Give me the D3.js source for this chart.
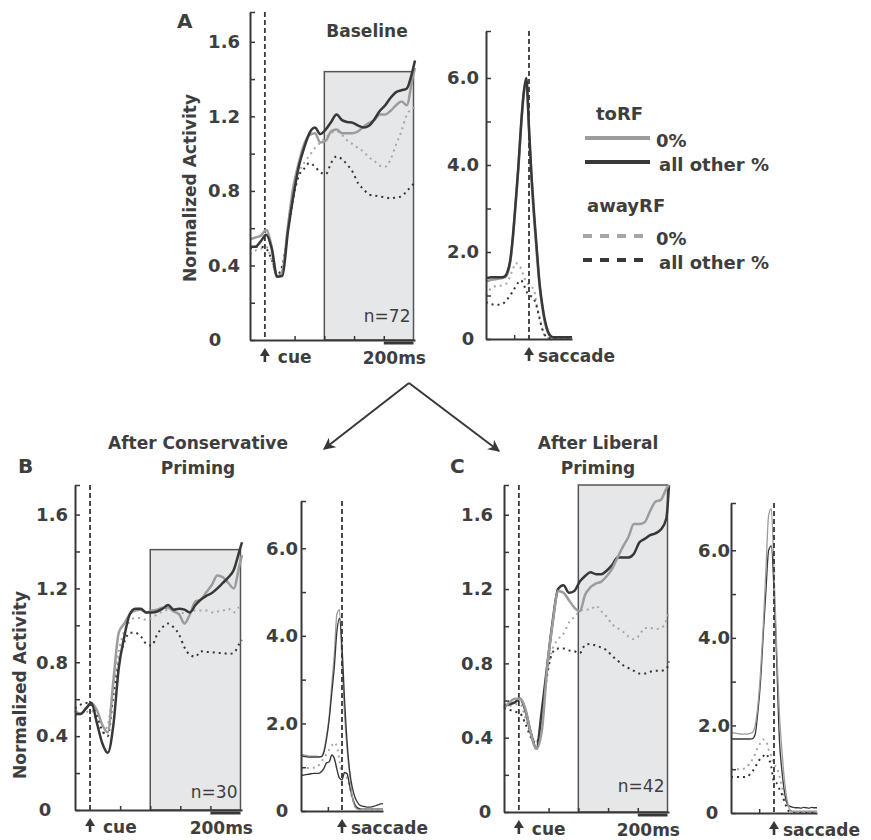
<!DOCTYPE html>
<html>
<head>
<meta charset="utf-8">
<script src="https://cdn.jsdelivr.net/npm/d3@7"></script>
<style>
  body { margin: 0; background: #fff; }
  svg text { font-family: "DejaVu Sans", sans-serif; }
</style>
</head>
<body>
<svg id="fig" width="871" height="840"></svg>
<script>
// ---- sample times (ms) ----
// cue-aligned panels, ms from cue
const cueTimes = [-100, -64, -27, 9, 46, 82, 118, 155, 191, 228, 264, 300, 337, 373, 410, 446,
                  482, 519, 555, 592, 628, 664, 701, 737, 774, 810, 846, 883, 919, 955, 992, 1010];
// saccade-aligned panels, ms from saccade
const sacTimes = [-290, -272, -254, -236, -218, -199, -181, -163, -145, -127, -109, -91, -72, -54, -36, -18,
                  0, 18, 36, 54, 72, 91, 109, 127, 145, 163, 181, 199, 218, 236, 254, 272, 290];

// ---- A: baseline ----
const aCueToZero    = [0.54, 0.55, 0.56, 0.59, 0.50, 0.34, 0.37, 0.61, 0.82, 0.95, 1.05, 1.10, 1.11, 1.06, 1.07, 1.12,
                       1.13, 1.11, 1.11, 1.11, 1.12, 1.145, 1.165, 1.18, 1.21, 1.21, 1.23, 1.26, 1.28, 1.26, 1.40, 1.46];
const aCueToOther   = [0.50, 0.50, 0.53, 0.565, 0.49, 0.34, 0.345, 0.58, 0.77, 0.93, 1.03, 1.11, 1.14, 1.105, 1.13, 1.17,
                       1.21, 1.18, 1.17, 1.165, 1.15, 1.14, 1.15, 1.185, 1.23, 1.26, 1.30, 1.33, 1.34, 1.35, 1.44, 1.50];
const aCueAwayZero  = [0.46, 0.48, 0.49, 0.50, 0.43, 0.34, 0.39, 0.60, 0.82, 0.90, 0.95, 0.99, 1.03, 1.06, 1.085, 1.11,
                       1.12, 1.10, 1.07, 1.05, 1.03, 1.01, 0.98, 0.96, 0.935, 0.93, 0.97, 1.05, 1.12, 1.21, 1.24, 1.25];
const aCueAwayOther = [0.49, 0.50, 0.50, 0.49, 0.43, 0.35, 0.40, 0.58, 0.76, 0.88, 0.92, 0.95, 0.93, 0.90, 0.89, 0.95,
                       0.985, 0.97, 0.94, 0.90, 0.84, 0.81, 0.78, 0.775, 0.77, 0.765, 0.76, 0.765, 0.77, 0.80, 0.83, 0.85];
const aSacToZero    = [1.32, 1.34, 1.36, 1.37, 1.38, 1.39, 1.40, 1.42, 1.50, 1.75, 2.30, 3.05, 3.90, 4.85, 5.60, 5.95,
                       4.80, 3.60, 2.70, 1.90, 1.20, 0.70, 0.35, 0.15, 0.06, 0.04, 0.04, 0.04, 0.04, 0.04, 0.04, 0.04, 0.04];
const aSacToOther   = [1.40, 1.41, 1.42, 1.42, 1.42, 1.42, 1.42, 1.44, 1.55, 1.80, 2.35, 3.10, 3.95, 4.90, 5.65, 6.00,
                       4.85, 3.70, 2.80, 2.00, 1.25, 0.75, 0.40, 0.18, 0.07, 0.04, 0.04, 0.04, 0.04, 0.04, 0.04, 0.04, 0.04];
const aSacAwayZero  = [1.00, 1.10, 1.17, 1.20, 1.22, 1.22, 1.24, 1.26, 1.30, 1.45, 1.60, 1.75, 1.70, 1.62, 1.45, 1.30,
                       1.25, 1.20, 1.10, 0.75, 0.50, 0.20, 0.06, 0.03, 0.02, 0.02, 0.02, 0.02, 0.02, 0.02, 0.02, 0.02, 0.02];
const aSacAwayOther = [0.85, 0.82, 0.80, 0.79, 0.79, 0.79, 0.80, 0.85, 0.92, 1.00, 1.10, 1.20, 1.30, 1.35, 1.25, 1.10,
                       1.00, 0.98, 0.90, 0.72, 0.45, 0.22, 0.08, 0.03, 0.02, 0.02, 0.02, 0.02, 0.02, 0.02, 0.02, 0.02, 0.02];

// ---- B: after conservative priming ----
const bCueToZero    = [0.54, 0.52, 0.55, 0.58, 0.54, 0.46, 0.42, 0.70, 0.96, 1.01, 1.06, 1.08, 1.085, 1.07, 1.08, 1.085,
                       1.095, 1.095, 1.075, 1.06, 1.01, 1.06, 1.13, 1.14, 1.18, 1.22, 1.27, 1.26, 1.23, 1.20, 1.32, 1.38];
const bCueToOther   = [0.52, 0.52, 0.55, 0.58, 0.47, 0.36, 0.31, 0.46, 0.77, 0.94, 1.06, 1.09, 1.09, 1.07, 1.07, 1.075,
                       1.09, 1.11, 1.085, 1.09, 1.085, 1.07, 1.11, 1.14, 1.16, 1.175, 1.20, 1.23, 1.26, 1.30, 1.40, 1.45];
const bCueAwayZero  = [0.51, 0.52, 0.53, 0.54, 0.47, 0.42, 0.46, 0.68, 0.86, 0.97, 1.02, 1.04, 1.04, 1.03, 1.04, 1.06,
                       1.075, 1.085, 1.08, 1.06, 1.07, 1.075, 1.08, 1.08, 1.08, 1.07, 1.075, 1.08, 1.09, 1.07, 1.10, 1.11];
const bCueAwayOther = [0.55, 0.57, 0.58, 0.57, 0.51, 0.43, 0.40, 0.62, 0.80, 0.91, 0.96, 0.96, 0.94, 0.90, 0.89, 0.95,
                       0.99, 1.01, 0.99, 0.95, 0.88, 0.84, 0.83, 0.86, 0.855, 0.855, 0.85, 0.85, 0.845, 0.85, 0.90, 0.92];
const bSacToZero    = [1.30, 1.28, 1.27, 1.26, 1.25, 1.25, 1.25, 1.24, 1.25, 1.40, 1.72, 2.15, 2.90, 3.60, 4.50, 4.60,
                       3.40, 2.20, 1.40, 0.85, 0.35, 0.10, 0.04, 0.03, 0.03, 0.03, 0.03, 0.03, 0.03, 0.03, 0.03, 0.03, 0.03];
const bSacToOther   = [1.27, 1.25, 1.24, 1.23, 1.23, 1.23, 1.23, 1.23, 1.24, 1.35, 1.65, 2.08, 2.70, 3.30, 4.10, 4.40,
                       3.75, 2.55, 1.58, 0.92, 0.55, 0.32, 0.20, 0.13, 0.11, 0.10, 0.09, 0.09, 0.10, 0.12, 0.14, 0.16, 0.17];
const bSacAwayZero  = [0.96, 0.97, 0.98, 0.98, 0.99, 0.99, 1.00, 1.05, 1.12, 1.22, 1.30, 1.40, 1.50, 1.56, 1.47, 1.15,
                       0.85, 0.80, 0.75, 0.55, 0.30, 0.12, 0.04, 0.03, 0.03, 0.03, 0.03, 0.03, 0.03, 0.03, 0.03, 0.03, 0.03];
const bSacAwayOther = [0.81, 0.82, 0.83, 0.84, 0.85, 0.86, 0.86, 0.86, 0.90, 0.98, 1.10, 1.12, 1.28, 1.20, 0.95, 0.75,
                       0.71, 0.88, 0.85, 0.58, 0.33, 0.15, 0.07, 0.05, 0.04, 0.04, 0.04, 0.04, 0.04, 0.04, 0.04, 0.04, 0.04];

// ---- C: after liberal priming ----
const cCueToZero    = [0.56, 0.59, 0.61, 0.61, 0.55, 0.42, 0.34, 0.44, 0.78, 1.02, 1.19, 1.18, 1.14, 1.10, 1.08, 1.17,
                       1.21, 1.23, 1.24, 1.27, 1.31, 1.37, 1.43, 1.48, 1.55, 1.55, 1.56, 1.62, 1.67, 1.68, 1.74, 1.76];
const cCueToOther   = [0.57, 0.58, 0.59, 0.61, 0.54, 0.42, 0.34, 0.55, 0.79, 1.03, 1.20, 1.22, 1.18, 1.19, 1.24, 1.27,
                       1.29, 1.28, 1.28, 1.30, 1.33, 1.37, 1.37, 1.37, 1.39, 1.45, 1.47, 1.49, 1.50, 1.52, 1.58, 1.76];
const cCueAwayZero  = [0.56, 0.57, 0.58, 0.58, 0.50, 0.42, 0.37, 0.52, 0.76, 0.88, 0.93, 0.96, 1.02, 1.05, 1.08, 1.09,
                       1.09, 1.11, 1.08, 1.05, 1.01, 0.99, 0.97, 0.945, 0.93, 0.95, 0.99, 0.99, 0.985, 0.99, 1.03, 1.08];
const cCueAwayOther = [0.56, 0.55, 0.54, 0.53, 0.47, 0.40, 0.37, 0.52, 0.74, 0.86, 0.88, 0.88, 0.87, 0.865, 0.855, 0.90,
                       0.905, 0.895, 0.885, 0.87, 0.84, 0.815, 0.79, 0.775, 0.76, 0.745, 0.745, 0.755, 0.76, 0.76, 0.77, 0.81];
const cSacToZero    = [1.84, 1.83, 1.82, 1.81, 1.80, 1.80, 1.80, 1.82, 1.84, 2.00, 2.45, 3.20, 4.30, 5.60, 6.80, 6.95,
                       5.50, 3.80, 2.30, 1.40, 0.70, 0.25, 0.07, 0.04, 0.04, 0.04, 0.04, 0.04, 0.04, 0.04, 0.04, 0.04, 0.04];
const cSacToOther   = [1.69, 1.69, 1.69, 1.69, 1.69, 1.69, 1.69, 1.69, 1.70, 1.80, 2.30, 3.00, 4.10, 5.10, 6.00, 6.10,
                       5.10, 3.50, 1.70, 0.95, 0.45, 0.20, 0.15, 0.13, 0.12, 0.12, 0.11, 0.13, 0.12, 0.11, 0.13, 0.12, 0.12];
const cSacAwayZero  = [1.00, 1.00, 1.00, 1.00, 1.00, 1.02, 1.05, 1.15, 1.22, 1.35, 1.50, 1.60, 1.68, 1.65, 1.45, 1.30,
                       1.10, 1.05, 0.85, 0.60, 0.35, 0.18, 0.06, 0.03, 0.02, 0.02, 0.02, 0.02, 0.02, 0.02, 0.02, 0.02, 0.02];
const cSacAwayOther = [0.82, 0.82, 0.82, 0.82, 0.82, 0.82, 0.83, 0.88, 0.95, 1.05, 1.15, 1.25, 1.30, 1.35, 1.25, 1.05,
                       0.70, 0.68, 0.55, 0.42, 0.25, 0.08, 0.03, 0.02, 0.02, 0.02, 0.02, 0.02, 0.02, 0.02, 0.02, 0.02, 0.02];

// ---- axes / annotation values ----
const cueYLabels = [0, 0.4, 0.8, 1.2, 1.6];
const cueYMinor = [0.2, 0.6, 1.0, 1.4];
const sacYLabels = [0, 2, 4, 6];
const sacYMinor = [1, 3, 5];
const cueXTicks = [200, 400, 600, 800];
const sacXTicks = [-100];
const cueDomain = [-100, 1010];
const sacDomain = [-290, 290];
const cueMax = 1.76, sacMax = 7.08;
const windowMs = [400, 1000];      // grey analysis window
const scaleBarMs = [800, 1000];    // 200ms bar
const cellCounts = [72, 30, 42];
const windowTops = [1.44, 1.41, 1.76];
const panelTitles = [["Baseline"], ["After Conservative", "Priming"], ["After Liberal", "Priming"]];

/////////////////////////////////////////////////////////////
const DARK = "#383838", GRAY = "#9c9c9c", INK = "#3e3e3e";

const svg = d3.select("#fig");

// series look, keyed by condition
function styleOf(key, thin) {
    const w = thin ? 1.3 : 2.5;
    if (key === "toZero") return { stroke: GRAY, width: w, dash: null };
    if (key === "toOther") return { stroke: DARK, width: w, dash: null };
    if (key === "awayZero") return { stroke: "#a6a6a6", width: 2, dash: "2,4" };
    return { stroke: "#333", width: 2, dash: "2,4" };
}

function drawYAxis(g, y, labels, minor, x0, gap, zero) {
    g.append("g")
        .attr("transform", `translate(${x0},0)`)
        .call(d3.axisLeft(y)
            .tickValues(labels.concat(minor, [y.domain()[1]]))
            .tickSize(-5)
            .tickSizeOuter(0)
            .tickPadding(gap)
            .tickFormat(d => d === 0 ? "0" : labels.includes(d) ? d3.format(".1f")(d) : ""))
        .attr("font-family", null)
        .attr("font-size", 18)
        .attr("font-weight", "bold")
        .call(a => a.select(".domain").attr("stroke", DARK).attr("stroke-width", 2))
        .call(a => a.selectAll(".tick line").attr("stroke", DARK).attr("stroke-width", 1.5))
        .call(a => a.selectAll(".tick text").attr("fill", INK))
        .call(a => a.selectAll(".tick text").filter(d => d === 0)
            .attr("text-anchor", "middle").attr("x", -zero));
}

function drawXAxis(g, x, y0, ticks) {
    g.append("g")
        .attr("transform", `translate(0,${y0})`)
        .call(d3.axisBottom(x).tickValues(ticks).tickSize(-4).tickSizeOuter(0).tickFormat(""))
        .call(a => a.select(".domain").attr("stroke", DARK).attr("stroke-width", 2))
        .call(a => a.selectAll(".tick line").attr("stroke", DARK).attr("stroke-width", 1.5));
}

function upArrow(g, cx, top, label, dx) {
    g.append("path")
        .attr("d", `M${cx},${top} L${cx + 5},${top + 8} L${cx - 5},${top + 8} Z`)
        .attr("fill", DARK);
    g.append("line")
        .attr("x1", cx).attr("x2", cx).attr("y1", top + 7).attr("y2", top + 14)
        .attr("stroke", DARK).attr("stroke-width", 2.6);
    g.append("text")
        .attr("x", cx + dx).attr("y", top + 15)
        .attr("font-size", 17).attr("font-weight", "bold").attr("fill", INK)
        .text(label);
}

function drawSeries(g, x, y, times, series, thin, overrides) {
    const line = d3.line()
        .x(d => x(d[0]))
        .y(d => y(Math.min(d[1], y.domain()[1])))
        .curve(d3.curveMonotoneX);
    series.forEach(([key, values]) => {
        const s = Object.assign(styleOf(key, thin), (overrides || {})[key] || {});
        g.append("path")
            .datum(d3.zip(times, values))
            .attr("fill", "none")
            .attr("stroke", s.stroke)
            .attr("stroke-width", s.width)
            .attr("stroke-dasharray", s.dash)
            .attr("stroke-linejoin", "round")
            .attr("d", line);
    });
}

function cuePanel(p, i) {
    const g = svg.append("g");
    const x = d3.scaleLinear().domain(cueDomain).range([p.x0, p.x1]);
    const y = d3.scaleLinear().domain([0, cueMax]).range([p.yBottom, p.yTop]);

    // analysis window
    g.append("rect")
        .attr("x", x(windowMs[0])).attr("width", x(windowMs[1]) - x(windowMs[0]))
        .attr("y", y(windowTops[i])).attr("height", y(0) - y(windowTops[i]))
        .attr("fill", "#e6e7e9").attr("stroke", "#555").attr("stroke-width", 1.5);

    // cue onset
    g.append("line")
        .attr("x1", x(0)).attr("x2", x(0)).attr("y1", p.yTop).attr("y2", p.yBottom)
        .attr("stroke", DARK).attr("stroke-width", 1.8).attr("stroke-dasharray", "5,3");

    drawSeries(g, x, y, cueTimes, p.series, false);
    drawYAxis(g, y, cueYLabels, cueYMinor, p.x0, p.gap, p.zero);
    drawXAxis(g, x, p.yBottom, cueXTicks);

    // 200 ms bar
    g.append("line")
        .attr("x1", x(scaleBarMs[0])).attr("x2", x(scaleBarMs[1]))
        .attr("y1", p.yBottom + 3).attr("y2", p.yBottom + 3)
        .attr("stroke", DARK).attr("stroke-width", 3);
    g.append("text")
        .attr("x", p.x1 + 11).attr("y", p.yBottom + 24)
        .attr("text-anchor", "end")
        .attr("font-size", 17).attr("font-weight", "bold").attr("fill", INK)
        .text("200ms");

    g.append("text")
        .attr("x", x(windowMs[1]) - 3).attr("y", p.nY)
        .attr("text-anchor", "end")
        .attr("font-size", 17).attr("fill", INK)
        .text(`n=${cellCounts[i]}`);

    upArrow(g, x(0), p.yBottom + 8, "cue", 13);
}

function sacPanel(p) {
    const g = svg.append("g");
    const x = d3.scaleLinear().domain(sacDomain).range([p.x0, p.x1]);
    const y = d3.scaleLinear().domain([0, sacMax]).range([p.yBottom, p.yTop]);

    drawSeries(g, x, y, sacTimes, p.series, p.thin, p.overrides);
    drawYAxis(g, y, sacYLabels, sacYMinor, p.x0, p.gap, p.zero);
    drawXAxis(g, x, p.yBottom, sacXTicks);

    g.append("line")
        .attr("x1", x(0)).attr("x2", x(0)).attr("y1", p.yTop).attr("y2", p.yBottom)
        .attr("stroke", DARK).attr("stroke-width", 1.8).attr("stroke-dasharray", "5,3");

    upArrow(g, x(0), p.yBottom + 8, "saccade", 9);
}

const cuePanels = [
    { x0: 250, x1: 415, yTop: 12, yBottom: 340, gap: 10, zero: 35, nY: 322,
      series: [["awayZero", aCueAwayZero], ["awayOther", aCueAwayOther], ["toZero", aCueToZero], ["toOther", aCueToOther]] },
    { x0: 75, x1: 242, yTop: 485, yBottom: 810, gap: 7, zero: 30, nY: 798,
      series: [["awayZero", bCueAwayZero], ["awayOther", bCueAwayOther], ["toZero", bCueToZero], ["toOther", bCueToOther]] },
    { x0: 504, x1: 669, yTop: 485, yBottom: 812, gap: 11, zero: 19, nY: 792,
      series: [["awayZero", cCueAwayZero], ["awayOther", cCueAwayOther], ["toOther", cCueToOther], ["toZero", cCueToZero]] }
];
const sacPanels = [
    { x0: 486, x1: 572, yTop: 31, yBottom: 339, gap: 7, zero: 18, thin: false,
      series: [["awayZero", aSacAwayZero], ["awayOther", aSacAwayOther], ["toZero", aSacToZero], ["toOther", aSacToOther]] },
    { x0: 301, x1: 383, yTop: 501, yBottom: 811, gap: 3, zero: 19, thin: true,
      overrides: { awayOther: { stroke: DARK, width: 1.4, dash: null } },
      series: [["awayZero", bSacAwayZero], ["awayOther", bSacAwayOther], ["toZero", bSacToZero], ["toOther", bSacToOther]] },
    { x0: 731, x1: 817, yTop: 503, yBottom: 813, gap: 1, zero: 19, thin: true,
      series: [["awayZero", cSacAwayZero], ["awayOther", cSacAwayOther], ["toOther", cSacToOther], ["toZero", cSacToZero]] }
];

cuePanels.forEach(cuePanel);
sacPanels.forEach(sacPanel);

// y titles
[[190, 188], [20, 685]].forEach(([cx, cy]) => {
    svg.append("text")
        .attr("transform", `translate(${cx},${cy}) rotate(-90)`)
        .attr("text-anchor", "middle").attr("dy", "0.35em")
        .attr("font-size", 17).attr("font-weight", "bold").attr("fill", INK)
        .text("Normalized Activity");
});

// panel letters and titles
const heads = [
    { letter: "A", lx: 177, ly: 28, tx: 367, ty: 37 },
    { letter: "B", lx: 18, ly: 473, tx: 198, ty: 449 },
    { letter: "C", lx: 450, ly: 473, tx: 598, ty: 449 }
];
heads.forEach((h, i) => {
    svg.append("text").attr("x", h.lx).attr("y", h.ly)
        .attr("font-size", 20).attr("font-weight", "bold").attr("fill", INK)
        .text(h.letter);
    panelTitles[i].forEach((t, j) => {
        svg.append("text").attr("x", h.tx).attr("y", h.ty + j * 25)
            .attr("text-anchor", "middle")
            .attr("font-size", 17).attr("font-weight", "bold").attr("fill", INK)
            .text(t);
    });
});

// legend
const lg = svg.append("g").attr("font-weight", "bold").attr("fill", INK).attr("font-size", 18);
lg.append("text").attr("x", 596).attr("y", 120).text("toRF");
lg.append("text").attr("x", 587).attr("y", 212).text("awayRF");
[
    { y: 138, stroke: GRAY, dash: null, label: "0%", x1: 585, x2: 650, tx: 656 },
    { y: 162, stroke: DARK, dash: null, label: "all other %", x1: 585, x2: 650, tx: 659 },
    { y: 236, stroke: "#a6a6a6", dash: "9,8", label: "0%", x1: 583, x2: 643, tx: 656 },
    { y: 260, stroke: DARK, dash: "9,8", label: "all other %", x1: 583, x2: 643, tx: 659 }
].forEach(d => {
    lg.append("line").attr("x1", d.x1).attr("x2", d.x2).attr("y1", d.y).attr("y2", d.y)
        .attr("stroke", d.stroke).attr("stroke-width", 4).attr("stroke-dasharray", d.dash);
    lg.append("text").attr("x", d.tx).attr("y", d.y + 9).text(d.label);
});

// arrows from baseline to the two priming conditions
svg.append("defs").append("marker")
    .attr("id", "head").attr("viewBox", "0 0 10 10")
    .attr("refX", 9).attr("refY", 5)
    .attr("markerWidth", 6).attr("markerHeight", 6)
    .attr("orient", "auto")
    .append("path").attr("d", "M0,0 L10,5 L0,10 L3,5 Z").attr("fill", DARK);
[[324, 449], [499, 451]].forEach(([tx, ty]) => {
    svg.append("line")
        .attr("x1", 409).attr("y1", 383).attr("x2", tx).attr("y2", ty)
        .attr("stroke", DARK).attr("stroke-width", 2)
        .attr("marker-end", "url(#head)");
});
</script>
</body>
</html>
